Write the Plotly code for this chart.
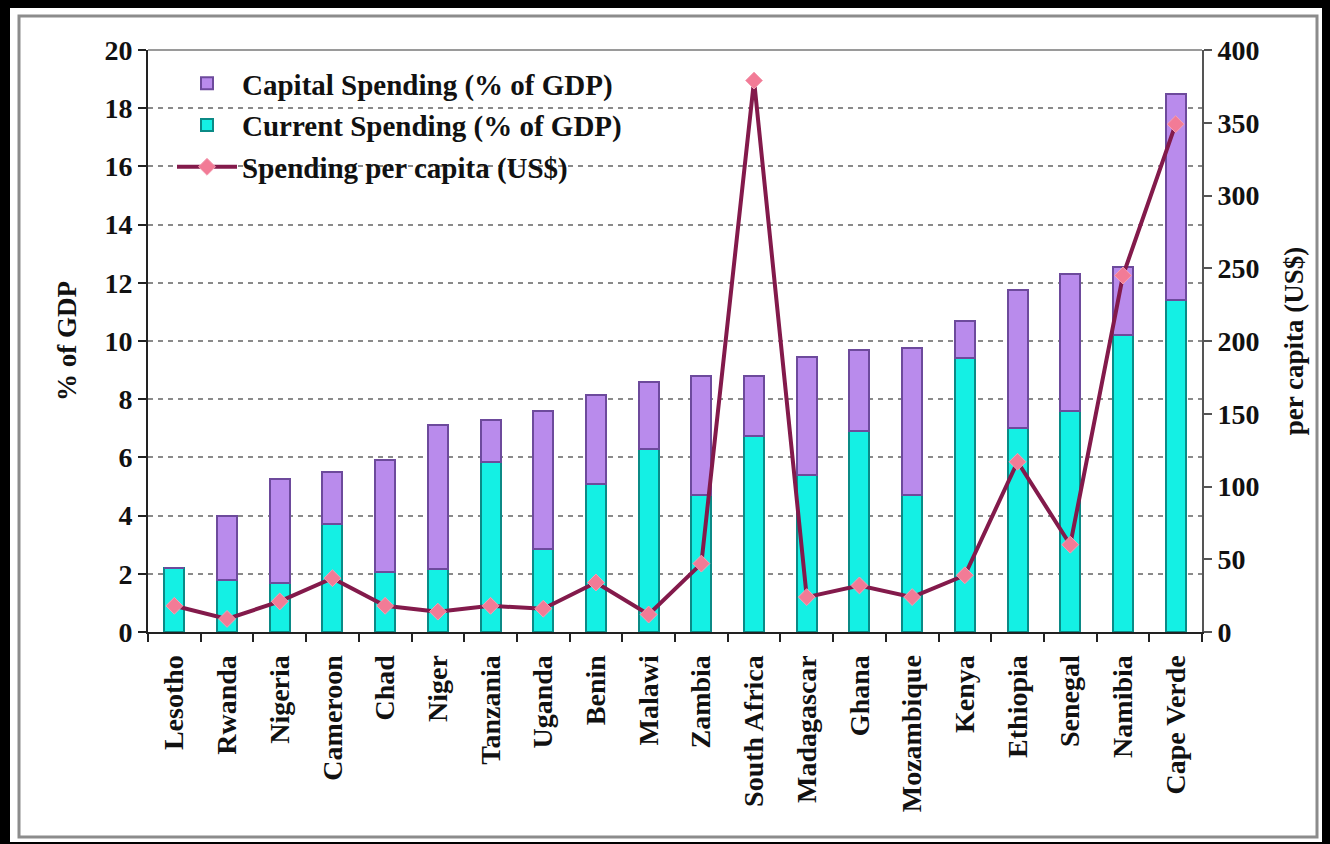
import plotly.graph_objects as go

countries = ["Lesotho", "Rwanda", "Nigeria", "Cameroon", "Chad", "Niger", "Tanzania",
             "Uganda", "Benin", "Malawi", "Zambia", "South Africa", "Madagascar", "Ghana",
             "Mozambique", "Kenya", "Ethiopia", "Senegal", "Namibia", "Cape Verde"]
current_spending = [2.2, 1.8, 1.7, 3.7, 2.05, 2.15, 5.85, 2.85, 5.1, 6.3,
                    4.7, 6.75, 5.4, 6.9, 4.7, 9.4, 7.0, 7.6, 10.2, 11.4]
capital_spending = [0.0, 2.2, 3.55, 1.8, 3.85, 4.95, 1.45, 4.75, 3.05, 2.3,
                    4.1, 2.05, 4.05, 2.8, 5.05, 1.3, 4.75, 4.7, 2.35, 7.1]
per_capita = [18, 9, 21, 37, 18, 14, 18, 16, 34, 12,
              47, 379, 24, 32, 24, 39, 117, 60, 245, 349]
left_ticks = [0, 2, 4, 6, 8, 10, 12, 14, 16, 18, 20]
right_ticks = [0, 50, 100, 150, 200, 250, 300, 350, 400]

SERIF = "Liberation Serif"
W, H = 1330, 844
L, R, T, B = 148, 128, 50, 212
pw, ph = W - L - R, H - T - B


def px_x(x):
    return (x - L) / pw


def px_y(y):
    return (H - B - y) / ph


fig = go.Figure()
fig.add_trace(go.Bar(
    x=countries, y=current_spending, name="Current Spending (% of GDP)",
    marker=dict(color="#14f0e4", line=dict(color="#0b8a86", width=2)),
    legendrank=2, legendgroup="b",
))
fig.add_trace(go.Bar(
    x=countries, y=capital_spending, name="Capital Spending (% of GDP)",
    marker=dict(color="#b98bec", line=dict(color="#6d4a9c", width=2)),
    legendrank=1, legendgroup="a",
))
fig.add_trace(go.Scatter(
    x=countries, y=per_capita, name="Spending per capita (US$)", yaxis="y2",
    mode="lines+markers",
    line=dict(color="#831a4b", width=4),
    marker=dict(symbol="diamond", size=13, color="#f27b96",
                line=dict(color="#f4a0b4", width=1)),
    legendrank=3, legendgroup="c",
))

tickfont = dict(family=SERIF, size=28, color="#111", weight="bold")

fig.update_layout(
    width=W, height=H,
    margin=dict(l=L, r=R, t=T, b=B, autoexpand=False),
    paper_bgcolor="black",
    plot_bgcolor="white",
    barmode="stack",
    bargap=0.62,
    showlegend=True,
    legend=dict(
        x=px_x(172), y=px_y(58), xanchor="left", yanchor="top",
        bgcolor="rgba(0,0,0,0)",
        font=dict(family=SERIF, size=29, color="#111", weight="bold"),
        itemwidth=60, tracegroupgap=1, traceorder="grouped",
    ),
    xaxis=dict(
        range=[-0.5, len(countries) - 0.5],
        showline=True, linecolor="#222", linewidth=2,
        ticks="outside", ticklen=8, tickcolor="#222", tickwidth=1.5,
        tickson="boundaries", tickangle=-90, ticklabelstandoff=10,
        tickfont=dict(family=SERIF, size=28, color="#111", weight="bold"),
        showgrid=False,
    ),
    yaxis=dict(
        range=[0, 20], tickvals=left_ticks,
        showline=True, linecolor="#222", linewidth=2,
        ticks="outside", ticklen=8, tickcolor="#222", tickwidth=1.5,
        tickfont=tickfont,
        showgrid=True, gridcolor="#8a8a8a", gridwidth=1.5, griddash="5px,5px",
        zeroline=False,
        title=dict(text="% of GDP", standoff=20,
                   font=dict(family=SERIF, size=27, color="#111", weight="bold")),
    ),
    yaxis2=dict(
        range=[0, 400], tickvals=right_ticks, overlaying="y", side="right",
        showline=True, linecolor="#555", linewidth=2,
        ticks="outside", ticklen=8, tickcolor="#555", tickwidth=1.5,
        tickfont=tickfont, showgrid=False, zeroline=False,
        title=dict(text="per capita (US$)", standoff=26,
                   font=dict(family=SERIF, size=27, color="#111", weight="bold")),
    ),
    shapes=[
        # white panel and its frame
        dict(type="rect", xref="paper", yref="paper", layer="below",
             x0=px_x(10), x1=px_x(1322), y0=px_y(842), y1=px_y(8),
             fillcolor="white", line=dict(width=0)),
        dict(type="rect", xref="paper", yref="paper", layer="below",
             x0=px_x(19), x1=px_x(1317), y0=px_y(837), y1=px_y(16),
             fillcolor="rgba(0,0,0,0)", line=dict(color="#8c8c8c", width=3)),
        # legend box hiding grid lines
        dict(type="rect", xref="paper", yref="paper", layer="between",
             x0=px_x(150), x1=px_x(697), y0=px_y(192), y1=px_y(60),
             fillcolor="white", line=dict(width=0)),
        # top border of plot area
        dict(type="line", xref="paper", yref="paper", layer="above",
             x0=0, x1=1, y0=1, y1=1, line=dict(color="#9a9a9a", width=2)),
    ],
)

fig.write_html(
    "out.html",
    config={"displayModeBar": False},
    post_script="document.body.style.margin='0';document.body.style.background='black';",
)
